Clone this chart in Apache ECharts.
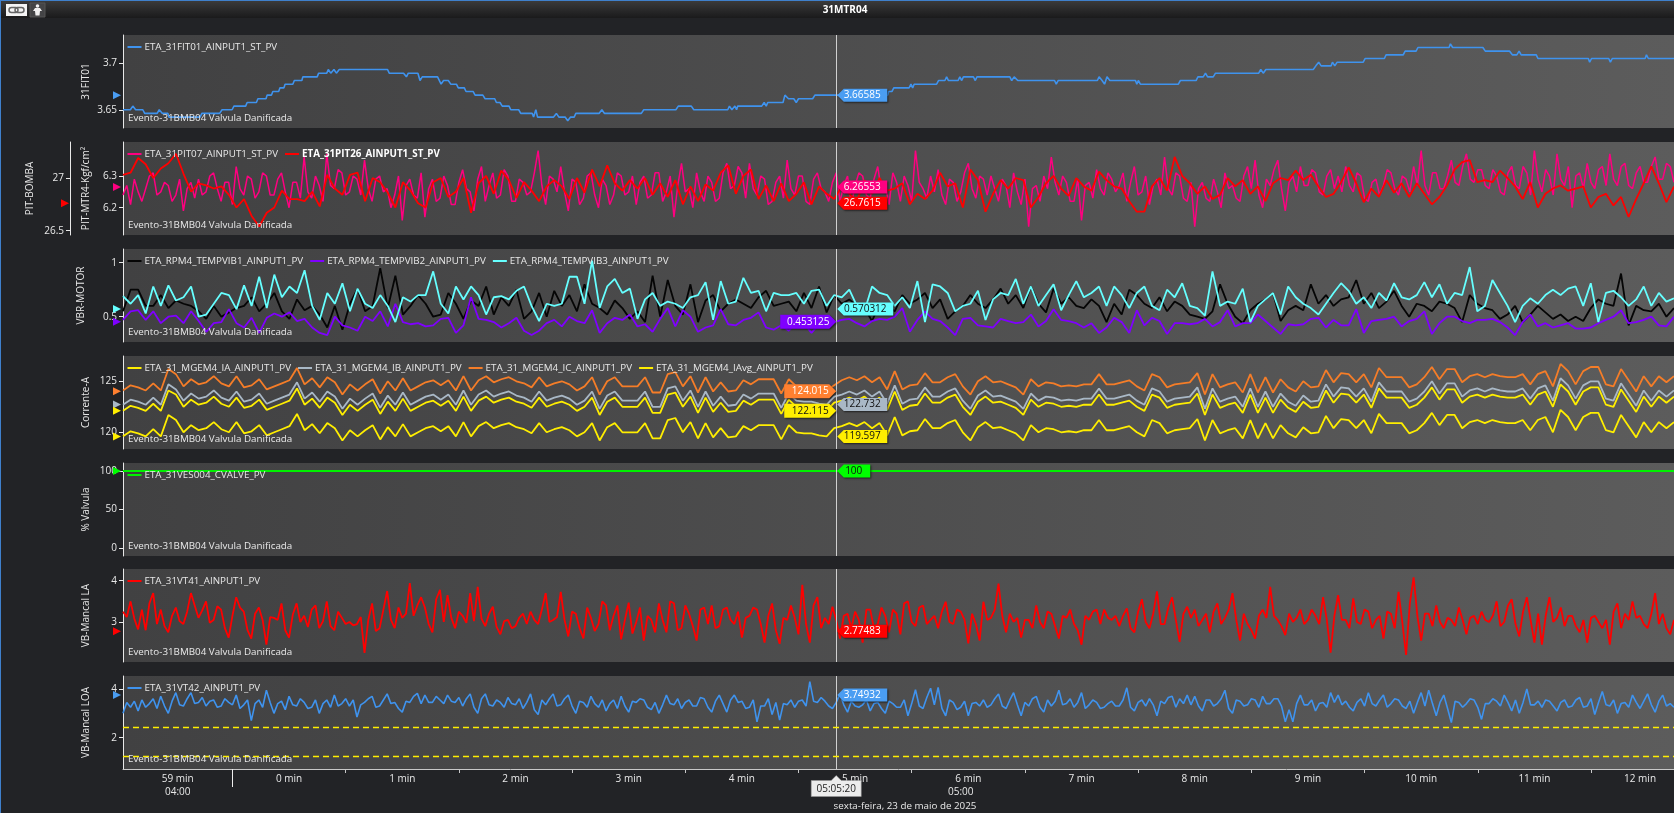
<!DOCTYPE html>
<html><head><meta charset="utf-8">
<style>html,body{margin:0;padding:0;background:#222326;overflow:hidden}#c{width:1674px;height:813px}</style>
<script src="https://cdn.jsdelivr.net/npm/echarts@6/dist/echarts.min.js"></script>
</head><body><div id="c"></div>
<script>
// time is in seconds relative to 05:00:00
const timeStart=-58, timeEnd=764, cursorTime=320;
const minuteTicks=[0,60,120,180,240,300,360,420,480,540,600,660,720];
const minuteLabelAt=[-29,30,90,150,210,270,330,390,450,510,570,630,690,746];
const minuteLabels=['59 min','0 min','1 min','2 min','3 min','4 min','5 min','6 min','7 min','8 min','9 min','10 min','11 min','12 min'];
const hourLabelAt=[-29,386];
const hourLabels=['04:00','05:00'];

const fit01Times=[-58,-54.1,-52.8,-51.3,-47.5,-46.5,-39.9,-38.8,-37.1,-34.2,-33.7,-17.2,-16.2,-6.8,-5.5,-0.2,0.8,7,7.8,12.7,13.5,17.8,18.4,20.7,21.4,24.5,25.2,27.3,27.9,32,32.8,36.8,37.3,44.9,45.7,50,50.8,52.1,53.8,55.1,56.6,82.2,83.1,90.7,92.2,93.2,98.3,99.4,100.6,108.7,110.6,111.9,114.4,115.7,118.7,119.7,122.9,123.8,127.6,128.6,132.7,133.9,139,139.9,141.8,143,146.6,147.5,151.7,152.8,158.9,159.6,160.8,161.7,170.2,171.7,173,176.3,177.7,179.2,181.1,182,194.3,195.8,197.2,216.7,218,235,236.3,243.2,244.5,262.5,263.4,264.7,266.3,267.2,267.8,280.5,281.8,282.9,283.7,291.8,292.8,294.7,297.5,298.8,300,307.5,308.7,347.3,347.7,349.5,350.5,358.6,359.6,360.5,361.3,373.2,374.2,377.6,378.5,379.5,384.6,385.5,386.5,387.4,392.7,393.7,394.6,412,413,414.3,416.2,435.7,436.6,437.6,458.4,459.3,460.9,462.2,463.5,465,478.6,479.3,480.1,481.2,501.3,502.4,510.7,511.7,514.5,515.7,516.8,519.8,521,543.9,545,546.3,547.7,572.8,574.2,575.7,577,582.3,583,584.2,585.5,599.3,600.3,610.5,611.4,620.5,621.5,627.3,628.3,644.8,645.5,646.7,662.7,664,676.9,678.3,680.7,681.9,683,691,691.9,718.6,719.3,720.3,729.4,730.3,731.3,748.7,749.4,750.4,764];
const fit01=[3.6503,3.6503,3.6542,3.6503,3.6503,3.6464,3.6464,3.6503,3.6464,3.6464,3.6425,3.6425,3.6464,3.6464,3.6503,3.6503,3.6542,3.6542,3.658,3.658,3.662,3.662,3.6659,3.6659,3.6697,3.6697,3.6736,3.6736,3.6775,3.6775,3.6814,3.6814,3.6853,3.6853,3.6892,3.6892,3.6931,3.6892,3.6931,3.6892,3.6931,3.6931,3.6892,3.6892,3.6853,3.6892,3.6892,3.6814,3.6853,3.6853,3.6775,3.6814,3.6814,3.6775,3.6775,3.6736,3.6736,3.6697,3.6697,3.6659,3.6659,3.662,3.662,3.658,3.658,3.6542,3.6542,3.6503,3.6503,3.6464,3.6464,3.6425,3.6503,3.6425,3.6425,3.6464,3.6425,3.6425,3.6386,3.6425,3.6425,3.6464,3.6464,3.6503,3.6464,3.6464,3.6503,3.6503,3.6542,3.6542,3.6503,3.6503,3.6542,3.6503,3.6542,3.6503,3.6542,3.6542,3.658,3.6542,3.658,3.658,3.6659,3.662,3.662,3.658,3.662,3.662,3.6659,3.6659,3.6697,3.6697,3.6736,3.6736,3.6775,3.6736,3.6775,3.6775,3.6814,3.6814,3.6853,3.6814,3.6814,3.6853,3.6814,3.6853,3.6853,3.6814,3.6853,3.6853,3.6814,3.6853,3.6814,3.6814,3.6775,3.6814,3.6814,3.6853,3.6814,3.6775,3.6853,3.6814,3.6814,3.6775,3.6814,3.6775,3.6775,3.6814,3.6814,3.6853,3.6853,3.6892,3.6853,3.6853,3.6892,3.6892,3.6931,3.6892,3.6931,3.6931,3.697,3.7009,3.697,3.697,3.7009,3.697,3.7009,3.7009,3.7048,3.7048,3.7087,3.7087,3.7126,3.7126,3.7165,3.7165,3.7204,3.7165,3.7165,3.7126,3.7126,3.7087,3.7087,3.7126,3.7087,3.7087,3.7048,3.7048,3.7009,3.7048,3.7048,3.7009,3.7048,3.7048,3.7087,3.7048,3.7048];

const pit07=[6.24,6.27,6.21,6.29,6.25,6.22,6.26,6.30,6.31,6.24,6.25,6.28,6.27,6.22,6.24,6.29,6.19,6.26,6.28,6.23,
6.29,6.24,6.25,6.30,6.31,6.26,6.22,6.28,6.28,6.21,6.33,6.26,6.24,6.30,6.29,6.23,6.25,6.31,6.30,6.24,
6.24,6.29,6.31,6.25,6.20,6.28,6.28,6.23,6.36,6.25,6.23,6.30,6.27,6.22,6.37,6.27,6.26,6.32,6.31,6.24,
6.25,6.30,6.29,6.24,6.35,6.26,6.22,6.29,6.30,6.25,6.26,6.20,6.24,6.30,6.16,6.27,6.29,6.24,6.23,6.31,
6.17,6.26,6.29,6.22,6.23,6.30,6.27,6.21,6.21,6.28,6.32,6.26,6.25,6.19,6.29,6.33,6.22,6.27,6.31,6.23,
6.24,6.32,6.30,6.22,6.22,6.29,6.28,6.24,6.25,6.31,6.38,6.27,6.21,6.30,6.29,6.25,
6.33,6.25,6.19,6.29,6.28,6.21,6.23,6.30,6.31,6.24,6.20,6.29,6.27,6.21,6.24,6.31,6.30,6.24,6.25,6.30,
6.21,6.28,6.30,6.23,6.24,6.31,6.31,6.22,6.25,6.30,6.17,6.27,6.34,6.25,6.26,6.20,6.31,6.25,6.22,6.30,
6.28,6.22,6.23,6.31,6.34,6.26,6.27,6.33,6.31,6.23,6.34,6.26,6.24,6.30,6.29,6.21,6.22,6.28,6.30,6.23,
6.35,6.26,6.24,6.30,6.30,6.22,6.21,6.29,6.31,6.26,6.25,6.22,6.28,6.31,6.22,6.27,6.30,6.21,6.27,6.31,
6.30,6.24,6.23,6.29,6.33,6.25,6.27,6.21,6.31,6.28,6.22,6.30,6.27,6.22,6.38,6.28,6.26,6.23,6.30,6.25,
6.32,6.24,6.21,6.29,6.28,6.22,6.25,6.31,6.34,6.26,6.23,6.30,6.29,6.24,6.30,6.26,6.22,6.29,6.27,6.20,
6.31,6.25,6.21,6.29,6.14,6.26,6.27,6.22,6.30,6.26,6.36,6.28,6.24,6.30,6.28,6.22,6.22,6.29,6.16,6.27,
6.28,6.23,6.32,6.26,6.24,6.31,6.29,6.25,
6.27,6.31,6.22,6.28,6.33,6.24,6.25,6.30,6.21,6.27,6.29,6.24,6.36,6.26,6.24,6.31,6.30,6.23,6.22,6.28,
6.14,6.26,6.28,6.23,6.22,6.29,6.25,6.20,6.31,6.26,6.27,6.23,6.22,6.30,6.33,6.26,6.35,6.24,6.20,6.29,
6.27,6.32,6.35,6.26,6.19,6.28,6.30,6.25,6.33,6.27,6.27,6.32,6.31,6.25,6.24,6.30,6.32,6.26,6.30,6.25,
6.33,6.27,6.25,6.31,6.30,6.23,6.22,6.28,6.29,6.24,6.27,6.32,6.31,6.26,6.24,6.30,6.29,6.25,6.33,6.27,
6.38,6.27,6.24,6.31,6.31,6.26,6.26,6.30,6.35,6.28,6.27,6.33,6.37,6.29,6.28,6.32,6.32,6.27,6.26,6.32,
6.30,6.25,6.24,6.31,6.33,6.27,6.26,6.33,6.31,6.24,6.38,6.29,6.25,6.32,6.30,6.24,6.37,6.29,6.27,6.33,
6.20,6.30,6.31,6.26,6.34,6.28,6.26,6.32,6.33,6.27,6.37,6.29,6.27,6.33,6.34,6.27,6.26,6.31,6.33,6.28,
6.28,6.33,6.36,6.29,6.29,6.34,6.33,6.28];
const pit26=[27.03,27.05,27.19,27.13,27.00,27.09,27.14,27.23,27.04,26.87,26.95,26.93,26.90,26.92,26.84,26.72,26.80,26.64,26.54,26.67,26.72,26.88,26.80,26.80,26.78,26.87,26.73,27.03,26.90,26.84,27.03,27.05,26.78,27.00,26.96,26.86,26.72,26.96,26.88,26.76,26.72,26.96,27.00,26.82,26.87,27.00,26.67,26.95,27.02,26.85,27.07,26.98,26.81,26.96,26.88,26.78,26.92,26.98,
26.92,26.80,27.00,26.86,27.08,26.92,27.12,26.95,26.88,26.98,26.90,27.00,26.84,26.95,26.82,26.98,26.75,26.92,26.78,26.94,26.88,27.05,27.12,26.85,27.02,27.08,26.80,26.93,26.78,26.95,26.78,26.85,26.96,26.75,26.92,26.85,26.80,26.92,26.85,26.78,26.98,26.85,27.00,26.88,26.90,26.95,26.75,26.85,26.80,26.88,27.05,26.92,26.95,26.72,27.08,26.98,26.68,26.85,26.98,26.90,27.00,26.98,26.72,26.82,26.95,27.02,26.90,26.83,27.00,26.92,26.88,27.06,26.98,26.92,
26.90,26.78,26.68,26.68,26.92,27.00,26.88,27.20,27.02,26.95,26.85,26.92,26.80,26.84,27.00,26.92,26.98,26.85,26.92,26.78,26.95,27.00,26.98,27.07,26.98,27.03,26.92,26.82,26.85,26.96,27.10,26.95,26.77,26.90,26.82,26.98,26.86,26.95,26.82,26.95,26.85,26.75,26.82,26.93,27.08,27.15,27.17,26.96,26.98,26.96,27.07,27.00,26.92,26.80,26.96,26.72,26.85,26.90,26.93,26.88,26.90,26.92,26.72,26.82,26.85,26.74,26.82,26.63,26.80,26.95,27.11,26.95,26.77,26.92];

const vib1=[.55,.75,.75,.60,.60,.70,.58,.65,.62,.60,.55,.48,.60,.50,.54,.58,.60,.68,.55,.62,.72,.55,.48,.66,.56,.60,.52,.40,.60,.38,.62,.76,.55,.60,.95,.58,.88,.52,.60,.70,.62,.50,.52,.72,.62,.48,.65,.60,.78,.52,.68,.60,.75,.48,.55,.72,.50,.74,
.60,.70,.55,.80,.62,.58,.52,.65,.58,.48,.55,.45,.88,.50,.84,.60,.52,.80,.45,.65,.70,.55,.62,.66,.62,.58,.68,.74,.60,.62,.64,.55,.72,.58,.78,.54,.70,.62,.66,.60,.58,.46,.62,.60,.55,.70,.62,.66,.72,.58,.66,.48,.55,.60,.70,.62,.58,.66,.76,.62,.70,.58,.78,.62,.54,.76,.62,.68,.60,.58,.66,.60,.45,.62,
.52,.75,.70,.62,.58,.68,.55,.64,.60,.52,.50,.48,.55,.80,.62,.50,.44,.56,.62,.66,.72,.46,.56,.60,.56,.80,.62,.70,.60,.66,.68,.84,.62,.72,.58,.64,.74,.60,.50,.62,.60,.55,.64,.62,.58,.45,.70,.62,.58,.56,.48,.52,.60,.45,.52,.60,.54,.48,.52,.46,.50,.46,.58,.66,.62,.60,.90,.42,.60,.56,.55,.62,.50,.58];
const vib2=[.47,.55,.56,.47,.55,.44,.50,.51,.44,.55,.46,.36,.44,.45,.57,.44,.40,.49,.35,.49,.53,.50,.54,.46,.48,.40,.35,.33,.50,.42,.40,.37,.50,.46,.55,.41,.62,.45,.43,.44,.41,.42,.48,.49,.35,.42,.68,.48,.47,.45,.40,.44,.49,.37,.33,.37,.44,.47,
.41,.50,.46,.44,.56,.35,.44,.49,.47,.52,.41,.43,.36,.48,.58,.41,.56,.50,.36,.40,.42,.57,.43,.42,.47,.49,.54,.40,.38,.42,.37,.44,.44,.35,.43,.44,.45,.47,.48,.44,.41,.46,.48,.47,.50,.58,.36,.47,.55,.48,.46,.40,.33,.48,.49,.42,.41,.40,.48,.46,.44,.45,.52,.41,.46,.57,.47,.46,.44,.40,.44,.35,.40,.49,
.45,.35,.56,.42,.49,.46,.34,.44,.44,.43,.44,.48,.41,.45,.56,.41,.44,.44,.52,.46,.40,.34,.43,.42,.43,.48,.49,.40,.47,.42,.42,.57,.35,.46,.47,.48,.50,.41,.46,.48,.55,.34,.44,.50,.50,.46,.44,.47,.47,.48,.45,.40,.33,.45,.52,.41,.44,.40,.42,.44,.39,.39,.40,.44,.47,.50,.56,.44,.45,.47,.50,.42,.41,.50];
const vib3=[.69,.62,.70,.53,.78,.60,.79,.65,.68,.78,.50,.52,.62,.72,.70,.57,.79,.60,.87,.58,.89,.68,.78,.72,.93,.60,.47,.72,.62,.81,.55,.76,.62,.58,.70,.60,.45,.68,.64,.70,.70,.92,.62,.53,.78,.66,.78,.70,.52,.68,.69,.66,.74,.78,.60,.46,.62,.60,
.62,.87,.87,.62,1.02,.58,.78,.85,.72,.76,.48,.66,.72,.60,.64,.62,.58,.68,.70,.82,.47,.83,.62,.64,.86,.72,.74,.55,.72,.70,.70,.72,.62,.74,.75,.60,.70,.68,.75,.60,.55,.78,.72,.70,.60,.68,.58,.83,.45,.80,.78,.72,.55,.60,.62,.74,.47,.66,.72,.70,.85,.62,.78,.60,.70,.80,.56,.70,.83,.68,.72,.78,.60,.78,
.70,.58,.72,.78,.60,.56,.75,.68,.81,.60,.58,.51,.92,.60,.64,.62,.76,.45,.60,.66,.72,.52,.78,.68,.62,.58,.52,.62,.72,.81,.74,.62,.68,.58,.72,.65,.81,.68,.66,.70,.82,.68,.80,.62,.72,.70,.96,.55,.60,.84,.72,.60,.45,.60,.67,.62,.70,.75,.70,.76,.78,.60,.81,.45,.72,.74,.68,.60,.66,.78,.60,.72,.64,.67];

const ia=[119.6,120.1,119.9,119.6,120.3,119.6,121.7,121.2,120.0,120.7,120.2,120.4,121.0,120.3,120.0,121.0,119.9,120.1,120.7,119.7,120.0,120.3,120.6,121.8,120.2,120.8,119.9,120.9,120.4,119.2,120.2,119.6,120.2,120.7,119.3,120.5,119.6,120.8,119.6,120.0,120.4,120.6,120.1,120.6,119.6,121.0,119.6,120.6,121.0,120.4,120.7,120.9,120.5,120.3,119.9,120.9,120.0,120.3,
120.5,120.2,119.6,120.0,120.9,119.2,120.5,120.9,120.0,120.0,120.0,120.9,119.4,119.4,121.2,121.4,120.0,121.0,119.4,120.9,119.5,120.4,119.5,119.6,120.6,120.2,120.7,120.7,120.7,119.3,120.7,120.0,119.9,119.9,119.7,119.6,120.4,120.6,120.9,120.6,121.0,120.4,120.9,119.7,121.5,119.7,120.1,120.2,121.3,120.4,120.4,120.9,121.2,120.0,119.2,120.5,121.0,120.4,120.5,120.2,119.9,119.2,120.7,120.0,120.4,120.3,120.0,120.1,120.0,120.2,120.2,121.2,120.2,120.2,
120.4,120.6,120.0,119.6,121.2,120.9,119.9,120.2,120.3,120.4,121.3,119.2,121.2,119.9,120.2,120.4,119.4,121.2,119.4,120.9,119.4,120.7,119.9,119.5,120.5,119.9,120.0,121.6,120.4,121.3,121.2,120.4,121.2,119.9,121.8,120.9,120.9,120.9,119.9,120.2,120.9,121.9,120.7,121.7,121.7,120.4,121.0,121.2,120.9,121.2,121.0,120.9,120.9,121.2,120.2,121.2,121.5,120.0,122.2,121.5,120.2,121.5,121.9,121.9,120.2,120.0,121.7,120.6,119.5,121.0,120.0,121.0,120.4,121.0];
const ib=[122.7,123.2,123.0,122.7,123.4,122.7,124.7,124.2,123.1,123.8,123.3,123.5,124.1,123.4,123.1,124.0,123.0,123.2,123.8,122.8,123.1,123.4,123.7,124.9,123.3,123.9,123.0,124.0,123.5,122.3,123.3,122.7,123.3,123.8,122.4,123.6,122.7,123.9,122.7,123.1,123.5,123.7,123.2,123.7,122.7,124.1,122.7,123.7,124.1,123.5,123.8,124.0,123.6,123.4,123.0,124.0,123.1,123.4,
123.6,123.3,122.7,123.1,124.0,122.3,123.6,124.0,123.1,123.1,123.1,124.0,122.5,122.5,124.3,124.5,123.1,124.1,122.5,124.0,122.6,123.5,122.6,122.7,123.7,123.3,123.8,123.8,123.8,122.4,123.8,123.1,123.0,123.0,122.8,122.7,123.5,123.7,124.0,123.7,124.1,123.5,124.0,122.8,124.6,122.8,123.2,123.3,124.4,123.5,123.5,124.0,124.3,123.1,122.3,123.6,124.1,123.5,123.6,123.3,123.0,122.3,123.8,123.1,123.5,123.4,123.1,123.2,123.1,123.3,123.3,124.3,123.3,123.3,
123.5,123.7,123.1,122.7,124.3,124.0,123.0,123.3,123.4,123.5,124.4,122.3,124.3,123.0,123.3,123.5,122.5,124.3,122.5,124.0,122.5,123.8,123.0,122.6,123.6,123.0,123.1,124.7,123.5,124.4,124.3,123.5,124.3,123.0,124.9,124.0,124.0,124.0,123.0,123.3,124.0,125.0,123.8,124.8,124.8,123.5,124.1,124.3,124.0,124.3,124.1,124.0,124.0,124.3,123.3,124.3,124.6,123.1,125.3,124.6,123.3,124.6,125.0,125.0,123.3,123.1,124.8,123.7,122.6,124.1,123.1,124.1,123.5,124.1];
const ic=[124.1,124.6,124.4,124.1,124.8,124.1,126.2,125.7,124.5,125.2,124.7,124.9,125.5,124.8,124.5,125.5,124.4,124.6,125.2,124.2,124.5,124.8,125.1,126.3,124.7,125.3,124.4,125.4,124.9,123.7,124.7,124.1,124.7,125.2,123.8,125.0,124.1,125.3,124.1,124.5,124.9,125.1,124.6,125.1,124.1,125.5,124.1,125.1,125.5,124.9,125.2,125.4,125.0,124.8,124.4,125.4,124.5,124.8,
125.0,124.7,124.1,124.5,125.4,123.7,125.0,125.4,124.5,124.5,124.5,125.4,123.9,123.9,125.7,125.9,124.5,125.5,123.9,125.4,124.0,124.9,124.0,124.1,125.1,124.7,125.2,125.2,125.2,123.8,125.2,124.5,124.4,124.4,124.2,124.1,124.6,125.1,125.4,125.1,125.5,124.9,125.4,124.2,126.0,124.2,124.6,124.7,125.8,124.9,124.9,125.4,125.7,124.5,123.7,125.0,125.5,124.9,125.0,124.7,124.4,123.7,125.2,124.5,124.9,124.8,124.5,124.6,124.5,124.7,124.7,125.7,124.7,124.7,
124.9,125.1,124.5,124.1,125.7,125.4,124.4,124.7,124.8,124.9,125.8,123.7,125.7,124.4,124.7,124.9,123.9,125.7,123.9,125.4,123.9,125.2,124.4,124.0,125.0,124.4,124.5,126.1,124.9,125.8,125.7,124.9,125.7,124.4,126.3,125.4,125.4,125.4,124.4,124.7,125.4,126.4,125.2,126.2,126.2,124.9,125.5,125.7,125.4,125.7,125.5,125.4,125.4,125.7,124.7,125.7,126.0,124.5,126.7,126.0,124.7,126.0,126.4,126.4,124.7,124.5,126.2,125.1,124.0,125.5,124.5,125.5,124.9,125.5];
const iavg=[122.1,122.6,122.4,122.1,122.8,122.1,124.1,123.7,122.5,123.2,122.7,122.9,123.5,122.8,122.5,123.4,122.4,122.6,123.2,122.2,122.5,122.8,123.1,124.3,122.7,123.3,122.4,123.4,122.9,121.7,122.7,122.1,122.7,123.2,121.8,123.0,122.1,123.3,122.1,122.5,122.9,123.1,122.6,123.1,122.1,123.5,122.1,123.1,123.5,122.9,123.2,123.4,123.0,122.8,122.4,123.4,122.5,122.8,
123.0,122.7,122.1,122.5,123.4,121.7,123.0,123.4,122.5,122.5,122.5,123.4,121.9,121.9,123.7,123.9,122.5,123.5,121.9,123.4,122.0,122.9,122.0,122.1,123.1,122.7,123.2,123.2,123.2,121.8,123.2,122.5,122.4,122.4,122.2,122.1,122.9,123.1,123.4,123.1,123.5,122.9,123.4,122.2,124.0,122.2,122.6,122.7,123.8,122.9,122.9,123.4,123.7,122.5,121.7,123.0,123.5,122.9,123.0,122.7,122.4,121.7,123.2,122.5,122.9,122.8,122.5,122.6,122.5,122.7,122.7,123.7,122.7,122.7,
122.9,123.1,122.5,122.1,123.7,123.4,122.4,122.7,122.8,122.9,123.8,121.7,123.7,122.4,122.7,122.9,121.9,123.7,121.9,123.4,121.9,123.2,122.4,122.0,123.0,122.4,122.5,124.1,122.9,123.8,123.7,122.9,123.7,122.4,124.3,123.4,123.4,123.4,122.4,122.7,123.4,124.4,123.2,124.2,124.2,122.9,123.5,123.7,123.4,123.7,123.5,123.4,123.4,123.7,122.7,123.7,124.0,122.5,124.7,124.0,122.7,124.0,124.4,124.4,122.7,122.5,124.2,123.1,122.0,123.5,122.5,123.5,122.9,123.5];

const valveTimes=[-58,764];
const valve=[100,100];

const vt41=[3.25,3.12,3.50,3.08,2.82,3.30,2.80,3.45,3.70,2.95,3.30,2.90,2.75,3.15,3.35,3.02,2.95,3.25,3.70,3.40,
3.10,3.28,3.50,2.98,3.05,3.38,3.30,2.85,2.62,3.15,3.60,3.35,3.25,2.80,2.60,3.20,3.35,3.05,2.45,3.12,
3.10,3.05,3.45,2.80,2.62,3.18,3.45,3.00,3.15,2.88,3.30,3.40,2.85,3.02,3.50,2.90,2.80,3.25,3.10,2.95,
3.00,2.92,2.95,3.12,2.25,3.05,3.45,2.78,2.85,3.30,3.75,3.05,2.85,3.35,3.10,3.20,3.94,3.15,3.40,3.60,
3.35,2.95,2.75,3.55,3.78,3.00,3.65,3.10,2.85,3.25,3.15,2.98,3.70,3.02,3.85,3.08,2.90,3.20,3.37,2.88,
2.70,3.02,3.05,2.85,2.90,3.10,3.20,2.95,3.25,3.05,2.95,3.30,3.70,3.00,3.05,3.12,
3.73,3.05,2.65,3.25,3.20,2.85,2.60,3.35,3.10,2.78,2.95,3.50,3.40,2.80,3.15,3.40,2.58,3.05,3.47,2.72,
3.00,3.35,2.55,3.15,3.05,2.75,3.45,3.05,2.75,3.50,3.45,2.80,2.85,3.40,3.20,2.90,2.55,3.30,3.35,2.95,
3.40,2.85,2.90,3.30,3.35,3.05,2.95,3.25,2.62,3.10,3.15,3.35,3.30,2.95,2.50,3.15,3.45,2.80,2.47,3.10,
3.05,3.40,3.10,2.70,3.90,2.95,2.50,3.40,3.60,2.85,3.10,2.95,3.37,3.05,2.60,3.15,3.20,2.85,3.25,3.05,
2.50,3.30,3.30,2.85,2.95,3.35,3.15,2.75,3.30,3.20,2.70,3.45,3.50,3.00,2.90,3.35,3.40,2.95,3.05,3.15,
2.85,3.25,3.49,3.00,2.95,3.30,3.25,3.05,2.48,3.20,2.95,2.55,3.49,3.05,3.10,3.30,3.93,3.15,2.75,3.20,
3.00,3.10,2.62,3.05,3.05,2.85,3.40,3.00,2.85,3.25,3.20,2.90,2.60,3.15,3.10,3.30,2.95,2.80,2.45,3.15,
3.05,3.25,3.30,2.95,3.30,3.10,3.05,3.15,
2.90,3.15,3.33,2.85,2.75,3.25,3.55,3.00,2.85,3.20,3.74,2.95,2.95,3.35,3.60,3.05,2.52,3.20,3.37,3.10,
3.30,2.90,3.05,3.20,2.75,3.25,3.45,2.95,3.10,3.30,3.70,3.05,2.55,3.20,2.95,2.80,2.60,3.15,3.30,3.10,
3.85,3.15,3.05,2.90,2.68,3.20,3.00,3.10,3.30,2.95,3.05,3.30,3.15,2.95,3.60,3.05,2.26,3.15,3.65,3.05,
3.05,2.85,3.57,3.00,2.95,3.30,3.25,2.85,3.05,3.15,2.60,3.25,3.20,2.85,3.73,3.00,2.20,3.45,4.08,3.15,
2.55,3.20,3.20,2.90,3.40,3.00,2.85,3.10,3.05,2.90,3.35,3.05,2.70,3.10,3.15,2.95,3.25,3.05,3.00,3.15,
3.50,2.90,3.00,3.40,3.55,2.95,2.65,3.25,3.60,3.05,2.50,3.20,2.45,3.15,3.60,3.00,3.10,3.35,2.90,3.15,
3.15,2.90,2.75,3.05,2.50,3.10,3.15,3.00,2.85,3.05,2.45,3.25,3.45,2.85,3.20,3.05,3.50,3.10,3.15,2.95,
2.85,3.20,3.70,2.95,3.20,2.85,2.70,3.05];
const vt42=[3.00,3.45,3.25,3.50,3.10,3.55,3.25,3.40,3.60,3.20,3.70,3.30,3.00,3.50,3.85,3.35,3.30,3.60,3.85,3.40,
3.45,3.65,3.30,3.50,3.55,3.25,3.30,3.60,3.45,3.35,3.75,3.20,3.35,3.55,2.70,3.40,3.55,3.25,3.95,3.45,
3.00,3.40,3.50,3.15,3.70,3.35,3.30,3.60,3.45,3.20,3.25,3.55,3.00,3.40,3.55,3.25,3.75,3.30,3.40,3.60,
3.30,3.55,2.85,3.35,3.45,3.60,3.70,3.25,3.30,3.55,3.80,3.40,3.45,3.20,3.05,3.50,3.45,3.70,3.82,3.40,
3.75,3.45,3.45,3.70,3.55,3.40,3.75,3.50,3.45,3.65,3.30,3.60,3.80,3.25,3.00,3.60,3.80,3.35,3.30,3.55,
3.45,3.25,3.65,3.40,3.35,3.60,3.20,3.45,3.80,3.15,2.95,3.55,3.35,3.60,3.80,3.30,
3.35,3.60,3.75,3.30,3.00,3.50,3.45,3.25,3.70,3.40,3.25,3.55,3.10,3.40,3.55,3.20,3.70,3.30,3.05,3.50,
3.45,3.60,3.55,3.25,3.15,3.45,3.00,3.35,3.75,3.40,3.35,3.60,3.20,3.45,3.55,3.30,3.30,3.65,3.60,3.25,
3.05,3.50,3.75,3.40,3.05,3.55,3.75,3.45,3.50,3.20,3.25,3.55,2.65,3.30,3.30,3.60,2.95,3.45,2.72,3.40,
3.35,3.55,3.25,3.50,3.55,3.30,4.30,3.50,3.45,3.65,3.50,3.30,3.20,3.45,3.80,3.35,3.05,3.50,3.30,3.25,
3.35,3.55,3.10,3.40,3.45,3.20,3.00,3.50,3.40,3.25,3.25,3.55,2.90,3.40,3.97,3.30,3.20,3.65,4.03,3.35,
4.07,3.20,2.90,3.55,3.45,3.15,3.25,3.50,2.90,3.40,3.45,3.30,3.55,3.25,3.35,3.60,3.80,3.30,3.20,3.55,
3.85,3.35,2.90,3.45,3.30,3.60,3.70,3.25,3.05,3.55,3.30,3.50,3.95,3.35,3.40,3.60,3.25,3.45,3.85,3.20,
3.35,3.55,3.45,3.20,3.25,3.40,3.50,3.30,
3.30,3.55,4.05,3.25,3.10,3.45,3.55,3.30,3.60,3.35,2.90,3.50,3.40,3.65,3.70,3.25,3.60,3.40,3.75,3.35,
3.70,3.30,3.10,3.55,3.55,3.30,3.40,3.60,3.95,3.20,3.00,3.55,3.50,3.30,3.35,3.60,3.55,3.25,3.70,3.40,
3.40,3.60,3.60,3.30,2.65,3.15,2.65,3.40,3.75,3.35,3.35,3.55,3.10,3.40,3.45,3.25,3.85,3.45,3.75,3.35,
3.50,3.25,3.10,3.45,3.60,3.30,3.85,3.40,3.30,3.55,3.75,3.25,3.40,3.60,3.55,3.30,3.20,3.50,3.00,3.45,
3.85,3.30,3.95,3.40,2.90,3.45,3.75,3.20,2.62,3.50,3.45,3.25,3.40,3.60,3.55,3.25,2.75,3.40,3.40,3.60,
3.50,3.30,3.75,3.45,3.10,3.55,3.00,3.45,4.00,3.35,3.35,3.50,3.25,3.55,3.50,3.30,3.10,3.45,3.55,3.25,
3.30,3.55,3.65,3.25,3.30,3.60,2.95,3.45,3.90,3.35,3.30,3.55,3.00,3.40,3.45,3.25,3.75,3.45,3.20,3.50,
3.80,3.35,3.05,3.50,3.75,3.30,3.40,3.25];
const limitHigh=2.41, limitLow=1.25;
const eventText='Evento-31BMB04 Valvula Danificada';

const FONT='"Open Sans","Noto Sans",sans-serif', TXT='#e8e8e8', BLUE='#3f93ee', PINK='#ff0080', RED='#ff0000';
const panelTop=[35,142,249,356,463,569,676], panelH=93, LEFT=123;
const panels=[
 {name:'31FIT01',min:3.6309,max:3.7298,ticks:[3.65,3.7],gap:32},
 {name:'PIT-MTR4-Kgf/cm²',min:6.1139,max:6.4073,ticks:[6.2,6.3],gap:32},
 {name:'VBR-MOTOR',min:.2657,max:1.127,ticks:[.5,1],gap:37},
 {name:'Corrente-A',min:118.36,max:127.48,ticks:[120,125],gap:32},
 {name:'% Valvula',min:-10.4,max:110.4,ticks:[0,50,100],gap:32},
 {name:'VB-Mancal LA',min:2.031,max:4.283,ticks:[3,4],gap:32},
 {name:'VB-Mancal LOA',min:.714,max:4.534,ticks:[2,4],gap:32}];

const panelBg=new echarts.graphic.LinearGradient(0,0,1,0,[{offset:0,color:'#414142'},{offset:1,color:'#5c5c5c'}]);
const grids=panelTop.map(t=>({left:LEFT,right:0,top:t,height:panelH,show:true,borderWidth:0,backgroundColor:panelBg}));

const xAxes=panelTop.map((t,i)=>{
 const last=i===6;
 return {type:'value',gridIndex:i,position:'bottom',min:timeStart,max:timeEnd,splitLine:{show:false},
  axisLine:{show:last,lineStyle:{color:'#c8c8c8',width:1}},
  axisTick:{show:last,length:4,customValues:minuteTicks,lineStyle:{color:'#c8c8c8'}},
  axisLabel:{show:last,customValues:minuteLabelAt,margin:5,color:TXT,fontFamily:FONT,fontSize:10,hideOverlap:false,
   formatter:v=>minuteLabels[minuteLabelAt.indexOf(v)]}};
});
xAxes.push({type:'value',gridIndex:6,position:'bottom',min:timeStart,max:timeEnd,splitLine:{show:false},
  axisLine:{show:false},axisTick:{show:true,length:18,customValues:[0],lineStyle:{color:'#eeeeee'}},
  axisLabel:{show:true,customValues:hourLabelAt,margin:18,color:TXT,fontFamily:FONT,fontSize:10,
   formatter:v=>hourLabels[hourLabelAt.indexOf(v)]}});

const axisStyle=(ticks)=>({
 axisLine:{show:true,onZero:false,lineStyle:{color:'#e8e8e8',width:1}},
 axisTick:{show:true,length:4,customValues:ticks,lineStyle:{color:'#e8e8e8'}},
 axisLabel:{customValues:ticks,margin:6,color:TXT,fontFamily:FONT,fontSize:10,formatter:v=>String(v)},
 splitLine:{show:false},nameLocation:'middle',nameMoveOverlap:false,nameTextStyle:{color:TXT,fontFamily:FONT,fontSize:10}});
const yAxes=panels.map((p,i)=>Object.assign({type:'value',gridIndex:i,min:p.min,max:p.max,name:p.name,nameGap:p.gap},axisStyle(p.ticks)));
yAxes.push(Object.assign({type:'value',gridIndex:1,min:26.459,max:27.3416,position:'left',offset:53,name:'PIT-BOMBA',nameGap:35},axisStyle([26.5,27])));

const tagL=(v,w,h)=>'path://M0,'+h/2+' L'+h/2+',0 H'+w+' V'+h+' H'+h/2+' Z';
const tagR=(v,w,h)=>'path://M'+w+','+h/2+' L'+(w-h/2)+',0 H0 V'+h+' H'+(w-h/2)+' Z';
function marks(value,color,dark,side,width,triOffset){
 const h=side==='R'?14:13;
 const data=[{coord:[cursorTime,value],symbol:(side==='R'?tagR:tagL)(value,width,h),symbolSize:[width,h],
  symbolOffset:[side==='R'?-width/2:width/2+1,0],symbolKeepAspect:false,
  itemStyle:{color,shadowBlur:2,shadowColor:'rgba(0,0,0,.6)',shadowOffsetX:1,shadowOffsetY:1},
  label:{show:true,position:'inside',formatter:String(value),color:dark?'#111':'#fff',fontFamily:FONT,fontSize:10}},
  {coord:[timeStart,value],symbol:'triangle',symbolSize:[8,8],symbolRotate:-90,symbolOffset:[triOffset||-6,0],
  itemStyle:{color},label:{show:false}}];
 return {silent:true,animation:false,data};
}
function cursor(extra){
 return {silent:true,animation:false,symbol:'none',label:{show:false},
  lineStyle:{color:'#d0d0d0',width:1,type:'solid'},data:[{xAxis:cursorTime}].concat(extra||[])};
}
const evenTimes=(vals)=>vals.map((v,i)=>[timeStart+i*(timeEnd-timeStart)/(vals.length-1),v]);
const zip=(ts,vals)=>ts.map((t,i)=>[t,vals[i]]);
function line(name,data,panel,color,mp,ml,yIdx,width){
 return {type:'line',name,data,xAxisIndex:panel,yAxisIndex:yIdx==null?panel:yIdx,showSymbol:false,symbol:'none',animation:false,silent:true,
  lineStyle:{color,width:width||1.8},itemStyle:{color},markPoint:mp,markLine:ml};
}
const timeTag={silent:true,animation:false,data:[{coord:[cursorTime,.714],symbol:'path://M25,0 L30,5 H50 V21 H0 V5 H20 Z',symbolSize:[50,21],symbolOffset:[0,17],
 itemStyle:{color:'#ececec',borderColor:'#999',borderWidth:.5},label:{show:true,position:'inside',offset:[0,3],formatter:'05:05:20',color:'#222',fontFamily:FONT,fontSize:10}}]};

const series=[
 line('ETA_31FIT01_AINPUT1_ST_PV',zip(fit01Times,fit01),0,BLUE,marks(3.66585,'#4a9df2',false,'L',50),cursor(),null,1.6),
 line('ETA_31PIT07_AINPUT1_ST_PV',evenTimes(pit07),1,PINK,marks(6.26553,PINK,false,'L',50),cursor(),null,1.5),
 line('ETA_31PIT26_AINPUT1_ST_PV',evenTimes(pit26),1,RED,marks(26.7615,RED,false,'L',50,-58),null,7,1.8),
 line('ETA_RPM4_TEMPVIB1_AINPUT1_PV',evenTimes(vib1),2,'#050505',null,cursor()),
 line('ETA_RPM4_TEMPVIB2_AINPUT1_PV',evenTimes(vib2),2,'#7f00ff',marks(.453125,'#7f00ff',false,'R',56)),
 line('ETA_RPM4_TEMPVIB3_AINPUT1_PV',evenTimes(vib3),2,'#66ffff',marks(.570312,'#66ffff',true,'L',56)),
 line('ETA_31_MGEM4_IA_AINPUT1_PV',evenTimes(ia),3,'#ffee00',marks(119.597,'#ffee00',true,'L',50),cursor()),
 line('ETA_31_MGEM4_IB_AINPUT1_PV',evenTimes(ib),3,'#a9b8c6',marks(122.732,'#a9b8c6',true,'L',50)),
 line('ETA_31_MGEM4_IC_AINPUT1_PV',evenTimes(ic),3,'#f57d28',marks(124.015,'#ff8030',false,'R',52)),
 line('ETA_31_MGEM4_IAvg_AINPUT1_PV',evenTimes(iavg),3,'#ffee00',marks(122.115,'#ffee00',true,'R',52)),
 line('ETA_31VES004_CVALVE_PV',zip(valveTimes,valve),4,'#00f000',marks(100,'#00ff00',true,'L',33),cursor()),
 line('ETA_31VT41_AINPUT1_PV',evenTimes(vt41),5,RED,marks(2.77483,RED,false,'L',50),cursor()),
 line('ETA_31VT42_AINPUT1_PV',evenTimes(vt42),6,BLUE,marks(3.74932,'#4a9df2',false,'L',50),
  cursor([{yAxis:limitHigh,lineStyle:{color:'#ffee00',type:[6,4],width:1.4}},{yAxis:limitLow,lineStyle:{color:'#ffee00',type:[6,4],width:1.4}}]),null,1.6),
 {type:'scatter',xAxisIndex:6,yAxisIndex:6,data:[],markPoint:timeTag,animation:false,silent:true}
];
const legendNames=[[0],[1,2],[3,4,5],[6,7,8,9],[10],[11],[12]];
const legends=legendNames.map((ids,i)=>({left:127.5,top:panelTop[i]+7,padding:0,itemWidth:14,itemHeight:2,itemGap:7,icon:'rect',selectedMode:false,
 textStyle:{color:TXT,fontFamily:FONT,fontSize:9.8,padding:[0,0,0,-2]},
 data:ids.map(k=>k===2?{name:series[k].name,textStyle:{fontWeight:'bold',color:'#fff'}}:{name:series[k].name})}));
const titles=panelTop.map(t=>({text:eventText,left:128,top:t+78,padding:0,textStyle:{color:TXT,fontFamily:FONT,fontSize:9.8,fontWeight:'normal'}}));
titles.push({text:'31MTR04',left:845,top:5,padding:0,textAlign:'center',textStyle:{color:'#fff',fontFamily:FONT,fontSize:10,fontWeight:'bold'}});
titles.push({text:'sexta-feira, 23 de maio de 2025',left:905,top:801,padding:0,textAlign:'center',textStyle:{color:TXT,fontFamily:FONT,fontSize:9.8,fontWeight:'normal'}});

const chart=echarts.init(document.getElementById('c'),null,{renderer:'canvas'});
chart.setOption({backgroundColor:'#222326',animation:false,title:titles,legend:legends,grid:grids,xAxis:xAxes,yAxis:yAxes,series,
 graphic:[
  {type:'rect',shape:{x:0,y:1,width:1674,height:17},silent:true,style:{fill:new echarts.graphic.LinearGradient(0,0,0,1,[{offset:0,color:'#3a3a3b'},{offset:1,color:'#1a1a1b'}])}},
  {type:'rect',shape:{x:0,y:0,width:1674,height:1},silent:true,style:{fill:'#3f80cc'}},
  {type:'rect',shape:{x:0,y:0,width:1,height:813},silent:true,style:{fill:'#3f80cc'}},
  {type:'rect',shape:{x:6,y:4,width:21,height:12},silent:true,style:{fill:'#f4f4f4'}},
  {type:'rect',shape:{x:9,y:7.5,width:9,height:5,r:2.5},silent:true,style:{fill:'none',stroke:'#666',lineWidth:1.5}},
  {type:'rect',shape:{x:15,y:7.5,width:9,height:5,r:2.5},silent:true,style:{fill:'none',stroke:'#666',lineWidth:1.5}},
  {type:'rect',shape:{x:30,y:3,width:15,height:14},silent:true,style:{fill:'#444446',stroke:'#555',lineWidth:1}},
  {type:'circle',shape:{cx:37.5,cy:6,r:1.8},silent:true,style:{fill:'#f0f0f0'}},
  {type:'polygon',shape:{points:[[35,8],[40,8],[42,11],[40,11],[39.5,15.5],[35.5,15.5],[35,11],[33,11]]},silent:true,style:{fill:'#f0f0f0'}}
 ]});
</script></body></html>
